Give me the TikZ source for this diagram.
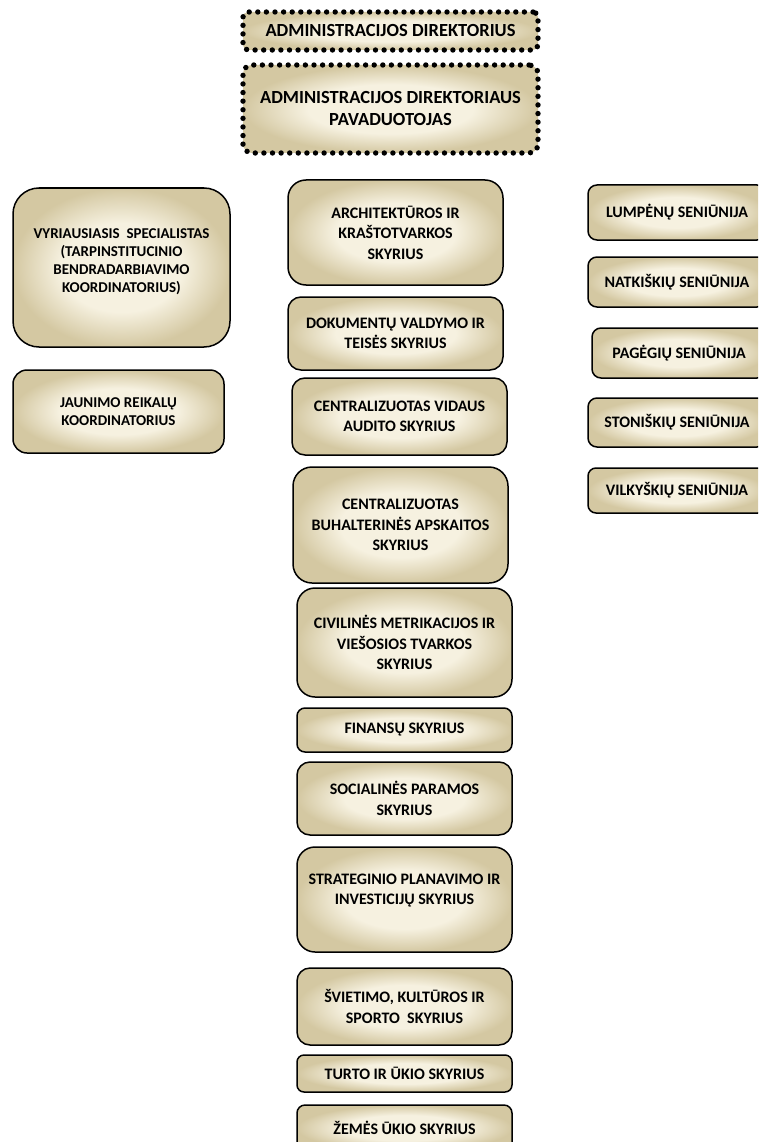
\documentclass[tikz,border=0pt]{standalone}
\usepackage{fontspec}
\setmainfont{Carlito}
\definecolor{bxedge}{RGB}{212,200,162}
\definecolor{bxlight}{RGB}{246,241,224}
\pgfdeclareradialshading{glow}{\pgfpoint{0bp}{0bp}}{color(0bp)=(bxlight); color(14bp)=(bxlight); color(25bp)=(bxedge); color(50bp)=(bxedge)}
\tikzset{
  bx/.style={draw=black, line width=1.5pt, shading=glow, align=center,
    font=\bfseries\fontsize{16}{20.5}\selectfont, inner sep=2pt, rounded corners=#1},
  bx/.default=12pt,
  smallfont/.style={font=\bfseries\fontsize{15}{18}\selectfont},
  dotbox/.style={draw=black, line width=5.4pt, line cap=round, dash pattern=on 0pt off 8.6pt,
    shading=glow, align=center, font=\bfseries\fontsize{18.5}{22}\selectfont, inner sep=2pt, rounded corners=#1},
  dotbox/.default=6pt
}
\begin{document}
\begin{tikzpicture}[x=1pt,y=-1pt]
\useasboundingbox (0,0) rectangle (758,1142);
\clip (0,0) rectangle (758,1142);
% top
\node[dotbox=5pt, minimum width=295pt, minimum height=38pt] (dir) at (390.5,31) {ADMINISTRACIJOS DIREKTORIUS};
\node[dotbox=9pt, minimum width=295pt, minimum height=88pt] (pav) at (390.5,109) {ADMINISTRACIJOS DIREKTORIAUS\\PAVADUOTOJAS};
% left
\node[bx=26pt, smallfont, minimum width=217pt, minimum height=159pt] (vyr) at (121.5,267.5) {VYRIAUSIASIS~ SPECIALISTAS\\(TARPINSTITUCINIO\\BENDRADARBIAVIMO\\KOORDINATORIUS)\\[-4pt]\mbox{}};
\node[bx=14pt, smallfont, minimum width=211pt, minimum height=83pt] (jau) at (118.5,411.5) {JAUNIMO REIKALŲ\\KOORDINATORIUS};
% middle
\node[bx=18pt, minimum width=215pt, minimum height=105pt] (arch) at (395.5,232.5) {ARCHITEKTŪROS IR\\KRAŠTOTVARKOS\\SKYRIUS};
\node[bx=13pt, minimum width=215pt, minimum height=73pt] (dok) at (395.5,333.5) {DOKUMENTŲ VALDYMO IR\\TEISĖS SKYRIUS};
\node[bx=13pt, minimum width=215pt, minimum height=77pt] (vid) at (399.5,416.5) {CENTRALIZUOTAS VIDAUS\\AUDITO SKYRIUS};
\node[bx=19pt, minimum width=215pt, minimum height=116pt] (buh) at (400.5,525) {CENTRALIZUOTAS\\BUHALTERINĖS APSKAITOS\\SKYRIUS};
\node[bx=18pt, minimum width=215pt, minimum height=109pt] (civ) at (404.5,642.5) {CIVILINĖS METRIKACIJOS IR\\VIEŠOSIOS TVARKOS\\SKYRIUS};
\node[bx=8pt, minimum width=215pt, minimum height=44pt] (fin) at (404.5,730) {FINANSŲ SKYRIUS};
\node[bx=13pt, minimum width=215pt, minimum height=73pt] (soc) at (404.5,798.5) {SOCIALINĖS PARAMOS\\SKYRIUS};
\node[bx=18pt, minimum width=215pt, minimum height=105pt] (str) at (404.5,899.5) {STRATEGINIO PLANAVIMO IR\\INVESTICIJŲ SKYRIUS\\\mbox{}};
\node[bx=13pt, minimum width=215pt, minimum height=77pt] (svi) at (404.5,1006.5) {ŠVIETIMO, KULTŪROS IR\\SPORTO~ SKYRIUS};
\node[bx=7pt, minimum width=215pt, minimum height=37pt] (tur) at (404.5,1073.5) {TURTO IR ŪKIO SKYRIUS};
\node[bx=8pt, minimum width=215pt, minimum height=46pt] (zem) at (404.5,1128) {ŽEMĖS ŪKIO SKYRIUS};
% right
\node[bx=9pt, minimum width=178pt, minimum height=55pt] (lum) at (677,212.5) {LUMPĖNŲ SENIŪNIJA};
\node[bx=9pt, minimum width=178pt, minimum height=50pt] (nat) at (677,282) {NATKIŠKIŲ SENIŪNIJA};
\node[bx=9pt, minimum width=174pt, minimum height=50pt] (pag) at (679,353) {PAGĖGIŲ SENIŪNIJA};
\node[bx=9pt, minimum width=178pt, minimum height=49pt] (sto) at (677,422.5) {STONIŠKIŲ SENIŪNIJA};
\node[bx=8pt, minimum width=178pt, minimum height=45pt] (vil) at (677,490.5) {VILKYŠKIŲ SENIŪNIJA};
\end{tikzpicture}
\end{document}
